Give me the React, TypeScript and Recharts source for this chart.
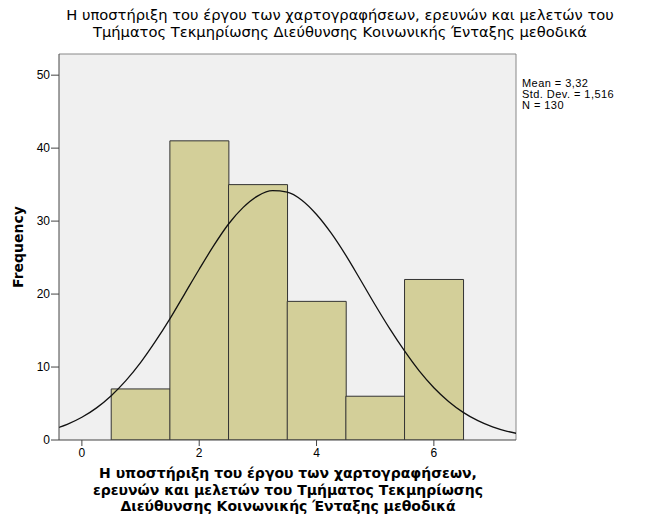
import { ComposedChart, Bar, Line, XAxis, YAxis, CartesianGrid, ReferenceLine } from 'recharts'

// histogram bins (centres) and counts
const binCenters = [1, 2, 3, 4, 5, 6]
const frequencies = [7, 41, 35, 19, 6, 22]

// normal curve
const curveX = [
  -0.5, -0.25, 0, 0.25, 0.5, 0.75, 1, 1.25, 1.5, 1.75, 2, 2.25, 2.5, 2.75, 3, 3.25, 3.5,
  3.75, 4, 4.25, 4.5, 4.75, 5, 5.25, 5.5, 5.75, 6, 6.25, 6.5, 6.75, 7, 7.25, 7.5,
]
const curveY = [
  1.43, 2.14, 3.11, 4.4, 6.07, 8.13, 10.6, 13.47, 16.6, 20.0, 23.4, 26.67, 29.6, 31.88, 33.46, 34.17, 33.97,
  32.86, 30.9, 28.34, 25.3, 21.93, 18.5, 15.22, 12.2, 9.47, 7.17, 5.29, 3.79, 2.65, 1.8, 1.19, 0.77,
]

const xTicks = [0, 2, 4, 6]
const yTicks = [0, 10, 20, 30, 40, 50]
const xDomain: [number, number] = [-0.39, 7.4]
const yDomain: [number, number] = [0, 52.9]

const statsLines = ['Mean = 3,32', 'Std. Dev. = 1,516', 'N = 130']
const titleLines = [
  'Η υποστήριξη του έργου των χαρτογραφήσεων, ερευνών και μελετών του',
  'Τμήματος Τεκμηρίωσης Διεύθυνσης Κοινωνικής Ένταξης μεθοδικά',
]
const xTitleLines = [
  'Η υποστήριξη του έργου των χαρτογραφήσεων,',
  'ερευνών και μελετών του Τμήματος Τεκμηρίωσης',
  'Διεύθυνσης Κοινωνικής Ένταξης μεθοδικά',
]

const binData = binCenters.map((x, i) => ({ x, freq: frequencies[i] }))
const curveData = curveX.map((x, i) => ({ x, density: curveY[i] }))

const FONT = '"Liberation Sans", Arial, sans-serif'
const WIDE = '"DejaVu Sans", Verdana, sans-serif'

export default function App() {
  return (
    <div style={{ position: 'absolute', left: 0, top: 0, width: 650, height: 517, background: '#fff', fontFamily: FONT, overflow: 'hidden' }}>
      {/* title */}
      <div style={{ position: 'absolute', left: 30, width: 620, top: 6, textAlign: 'center', fontFamily: WIDE, fontSize: 14.7, lineHeight: '17px', color: '#000' }}>
        {titleLines.map(t => <div key={t}>{t}</div>)}
      </div>

      <ComposedChart
        width={650}
        height={517}
        data={binData}
        margin={{ top: 54, right: 134, bottom: 47, left: 19 }}
        barCategoryGap={0}
        barGap={0}
        style={{ position: 'absolute', left: 0, top: 0 }}
      >
        <CartesianGrid fill="#f0f0f0" horizontal={false} vertical={false} />
        <XAxis
          type="number"
          dataKey="x"
          domain={xDomain}
          allowDataOverflow
          ticks={xTicks}
          height={30}
          tickSize={6}
          tickMargin={2}
          stroke="#444"
          tick={{ fill: '#000', fontSize: 12, fontFamily: FONT }}
        />
        {/* hidden axis for the bins so the bar width is one bin */}
        <XAxis
          xAxisId="bins"
          type="number"
          dataKey="x"
          domain={xDomain}
          allowDataOverflow
          ticks={binCenters}
          hide
        />
        <YAxis
          type="number"
          domain={yDomain}
          allowDataOverflow
          ticks={yTicks}
          width={40}
          tickSize={8}
          tickMargin={1}
          stroke="#444"
          tick={{ fill: '#000', fontSize: 12, fontFamily: FONT }}
        />
        <ReferenceLine y={yDomain[1]} stroke="#888" />
        <ReferenceLine x={xDomain[1]} stroke="#888" />
        <Bar xAxisId="bins" dataKey="freq" fill="#d3cf99" stroke="#333" strokeWidth={1} isAnimationActive={false} />
        <Line
          data={curveData}
          dataKey="density"
          type="monotone"
          stroke="#111"
          strokeWidth={1.3}
          dot={false}
          activeDot={false}
          isAnimationActive={false}
        />
      </ComposedChart>

      {/* y axis title */}
      <div style={{ position: 'absolute', left: 18, top: 247, transform: 'translate(-50%, -50%) rotate(-90deg)', fontFamily: WIDE, fontSize: 14, fontWeight: 'bold', whiteSpace: 'nowrap' }}>
        Frequency
      </div>

      {/* stats box */}
      <div style={{ position: 'absolute', left: 522, top: 78, fontSize: 11, lineHeight: '11px', letterSpacing: 0.45, color: '#000' }}>
        {statsLines.map(t => <div key={t}>{t}</div>)}
      </div>

      {/* x axis title */}
      <div style={{ position: 'absolute', left: 38, width: 500, top: 465, textAlign: 'center', fontFamily: WIDE, fontSize: 14, fontWeight: 'bold', lineHeight: '16.5px' }}>
        {xTitleLines.map(t => <div key={t}>{t}</div>)}
      </div>
    </div>
  )
}
